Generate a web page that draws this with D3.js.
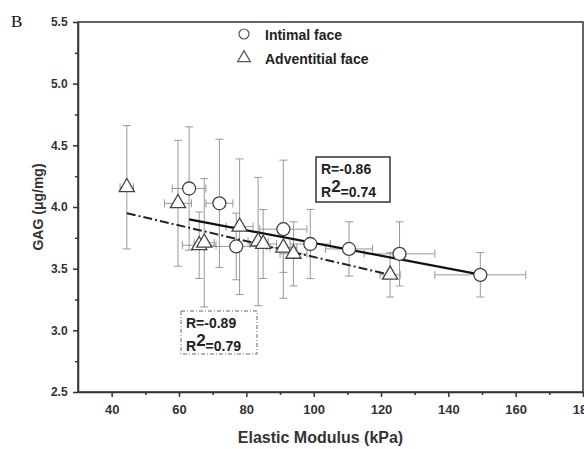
<!DOCTYPE html>
<html>
<head>
<meta charset="utf-8">
<script src="https://cdn.jsdelivr.net/npm/d3@7"></script>
<style>
body { margin: 0; background: #fff; }
text { font-family: "Liberation Sans", Arial, sans-serif; }
</style>
</head>
<body>
<script>
// Intimal face (circles)
var intimalX    = [63, 72, 77, 91, 99, 110.5, 125.5, 149.5];
var intimalY    = [4.15, 4.03, 3.68, 3.82, 3.70, 3.66, 3.62, 3.45];
var intimalYErr = [0.50, 0.52, 0.27, 0.56, 0.28, 0.22, 0.26, 0.18];
var intimalXErr = [5, 4, 9, 7, 6, 7, 10.5, 13.5];

// Adventitial face (triangles)
var adventX    = [44.5, 59.7, 66, 67.5, 78, 83.5, 85, 91, 94, 122.7];
var adventY    = [4.16, 4.03, 3.69, 3.71, 3.84, 3.72, 3.70, 3.67, 3.62, 3.45];
var adventYErr = [0.50, 0.51, 0.27, 0.52, 0.55, 0.52, 0.28, 0.20, 0.26, 0.18];
var adventXErr = [2, 4, 5, 3, 4, 3, 4, 4, 4, 3];

// regression lines [x, y] end points
var intimalFit = [[63, 3.90], [150, 3.45]];
var adventFit  = [[44.5, 3.95], [122.7, 3.45]];

var xTicks = [40, 60, 80, 100, 120, 140, 160, 180];
var yTicks = [2.5, 3.0, 3.5, 4.0, 4.5, 5.0, 5.5];

var width = 584, height = 449;
var margin = {top: 22, right: 1, bottom: 57, left: 78};

var svg = d3.select("body").append("svg")
    .attr("width", width)
    .attr("height", height);

var x = d3.scaleLinear().domain([30, 180]).range([margin.left, width - margin.right]);
var y = d3.scaleLinear().domain([2.5, 5.5]).range([height - margin.bottom, margin.top]);

var axisColor = "#333";

// frame
svg.append("rect")
    .attr("x", x(30)).attr("y", y(5.5))
    .attr("width", x(180) - x(30)).attr("height", y(2.5) - y(5.5))
    .attr("fill", "none").attr("stroke", axisColor).attr("stroke-width", 1.5);

// x axis
var xAxis = svg.append("g")
    .attr("transform", "translate(0," + y(2.5) + ")")
    .call(d3.axisBottom(x).tickValues(xTicks).tickSize(5).tickSizeOuter(0).tickFormat(d3.format("d")));
svg.append("g")
    .attr("transform", "translate(0," + y(2.5) + ")")
    .call(d3.axisBottom(x).tickValues([50, 70, 90, 110, 130, 150, 170]).tickSize(3).tickFormat(""))
    .select(".domain").remove();

// y axis
var yAxis = svg.append("g")
    .attr("transform", "translate(" + x(30) + ",0)")
    .call(d3.axisLeft(y).tickValues(yTicks).tickSize(5).tickSizeOuter(0).tickFormat(d3.format(".1f")));
svg.append("g")
    .attr("transform", "translate(" + x(30) + ",0)")
    .call(d3.axisLeft(y).tickValues([2.75, 3.25, 3.75, 4.25, 4.75, 5.25]).tickSize(3).tickFormat(""))
    .select(".domain").remove();

svg.selectAll(".domain").attr("stroke", axisColor).attr("stroke-width", 1.5);
svg.selectAll(".tick line").attr("stroke", axisColor).attr("stroke-width", 1.5);
xAxis.selectAll(".tick text").attr("font-size", 13).attr("font-weight", "bold")
    .attr("fill", "#333").attr("dy", "1.05em");
yAxis.selectAll(".tick text").attr("font-size", 12).attr("font-weight", "bold")
    .attr("fill", "#333").attr("dx", "-0.2em");

// axis titles
svg.append("text")
    .attr("x", (x(30) + x(180)) / 2 - 10)
    .attr("y", 443)
    .attr("text-anchor", "middle")
    .attr("font-size", 16).attr("font-weight", "bold").attr("fill", "#333")
    .text("Elastic Modulus (kPa)");

svg.append("text")
    .attr("transform", "translate(43," + ((y(2.5) + y(5.5)) / 2) + ") rotate(-90)")
    .attr("text-anchor", "middle")
    .attr("font-size", 14).attr("font-weight", "bold").attr("fill", "#333")
    .text("GAG (μg/mg)");

// panel letter
svg.append("text")
    .attr("x", 11).attr("y", 27)
    .style("font-family", "'Liberation Serif', 'Times New Roman', serif")
    .attr("font-size", 17).attr("fill", "#111")
    .text("B");

var errColor = "#999";
function errorBars(xs, ys, xe, ye) {
    var g = svg.append("g").attr("stroke", errColor).attr("stroke-width", 1).attr("fill", "none");
    xs.forEach(function (xv, i) {
        var cx = x(xv), cy = y(ys[i]);
        var t = y(ys[i] + ye[i]), b = y(ys[i] - ye[i]);
        var l = x(xv - xe[i]), r = x(xv + xe[i]);
        g.append("line").attr("x1", cx).attr("x2", cx).attr("y1", t).attr("y2", b);
        g.append("line").attr("x1", cx - 4).attr("x2", cx + 4).attr("y1", t).attr("y2", t);
        g.append("line").attr("x1", cx - 4).attr("x2", cx + 4).attr("y1", b).attr("y2", b);
        g.append("line").attr("x1", l).attr("x2", r).attr("y1", cy).attr("y2", cy);
        g.append("line").attr("x1", l).attr("x2", l).attr("y1", cy - 4).attr("y2", cy + 4);
        g.append("line").attr("x1", r).attr("x2", r).attr("y1", cy - 4).attr("y2", cy + 4);
    });
}
errorBars(adventX, adventY, adventXErr, adventYErr);
errorBars(intimalX, intimalY, intimalXErr, intimalYErr);

// regression lines
var line = d3.line().x(d => x(d[0])).y(d => y(d[1]));
svg.append("path").datum(intimalFit)
    .attr("d", line).attr("fill", "none").attr("stroke", "#111").attr("stroke-width", 2.2);
svg.append("path").datum(adventFit)
    .attr("d", line).attr("fill", "none").attr("stroke", "#222").attr("stroke-width", 2)
    .attr("stroke-dasharray", "9,3,2,3");

// markers
var markerStroke = "#444";
var tri = d3.symbol().type(d3.symbolTriangle).size(100);
svg.append("g").selectAll("path").data(adventX).join("path")
    .attr("d", tri)
    .attr("transform", (d, i) => "translate(" + x(d) + "," + y(adventY[i]) + ")")
    .attr("fill", "#fff").attr("stroke", markerStroke).attr("stroke-width", 1.3);
svg.append("g").selectAll("circle").data(intimalX).join("circle")
    .attr("cx", d => x(d))
    .attr("cy", (d, i) => y(intimalY[i]))
    .attr("r", 6.5)
    .attr("fill", "#fff").attr("stroke", markerStroke).attr("stroke-width", 1.3);

// legend
var lg = svg.append("g");
lg.append("circle").attr("cx", 244).attr("cy", 34).attr("r", 5)
    .attr("fill", "#fff").attr("stroke", "#555").attr("stroke-width", 1.2);
lg.append("path").attr("d", d3.symbol().type(d3.symbolTriangle).size(70))
    .attr("transform", "translate(244,58)")
    .attr("fill", "#fff").attr("stroke", "#555").attr("stroke-width", 1.2);
lg.append("text").attr("x", 265).attr("y", 40)
    .attr("font-size", 14).attr("font-weight", "bold").attr("fill", "#222").text("Intimal face");
lg.append("text").attr("x", 265).attr("y", 64)
    .attr("font-size", 14).attr("font-weight", "bold").attr("fill", "#222").text("Adventitial face");

// correlation boxes
function statBox(x0, y0, w, h, r, r2, dash) {
    var g = svg.append("g");
    g.append("rect").attr("x", x0).attr("y", y0).attr("width", w).attr("height", h)
        .attr("fill", "#fff").attr("stroke", dash ? "#666" : "#333")
        .attr("stroke-width", dash ? 1 : 1.5)
        .attr("stroke-dasharray", dash ? "4,2,1,2" : null);
    g.append("text").attr("x", x0 + 5).attr("y", y0 + 17)
        .attr("font-size", 14).attr("font-weight", "bold").attr("fill", "#222").text("R=" + r);
    var t = g.append("text").attr("x", x0 + 5).attr("y", y0 + 40)
        .attr("font-size", 14).attr("font-weight", "bold").attr("fill", "#222");
    t.append("tspan").text("R");
    t.append("tspan").attr("dy", -5).attr("font-size", 17).text("2");
    t.append("tspan").attr("dy", 5).text("=" + r2);
}
statBox(316, 157, 74, 45, "-0.86", "0.74", false);
statBox(181, 311, 76, 43, "-0.89", "0.79", true);
</script>
</body>
</html>
